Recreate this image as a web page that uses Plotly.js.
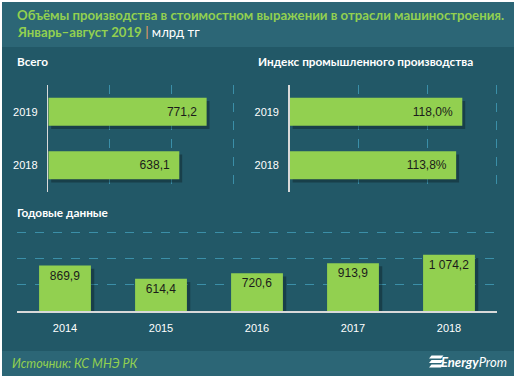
<!DOCTYPE html>
<html>
<head>
<meta charset="utf-8">
<script src="https://cdn.plot.ly/plotly-3.0.1.min.js"></script>
<style>
html,body{margin:0;padding:0;background:#fff;}
#chart{width:517px;height:379px;}
</style>
</head>
<body>
<div id="chart"></div>
<script>
// ---- data ----
var totalYears = ['2018', '2019'];
var totalValues = [638.1, 771.2];
var indexYears = ['2018', '2019'];
var indexValues = [113.8, 118.0];
var annualYears = ['2014', '2015', '2016', '2017', '2018'];
var annualValues = [869.9, 614.4, 720.6, 913.9, 1074.2];

var titleLine1 = 'Объёмы производства в стоимостном выражении в отрасли машиностроения.';
var titleLine2 = 'Январь–август 2019';
var unitText = 'млрд тг';
var panelTitles = ['Всего', 'Индекс промышленного производства', 'Годовые данные'];
var sourceText = 'Источник: КС МНЭ РК';

// ---- helpers (pixel -> paper) ----
var W = 517, H = 379;
function px(x){ return x / W; }
function py(y){ return 1 - y / H; }

var GREEN = '#92d050';
var BG = '#225867';
var GRID = '#3b8fa8';
var SHADOW = 'rgba(0,0,0,0.28)';
var TXT = '#1b1b1b';
var valFont = {family: 'Liberation Sans, Arial, sans-serif', size: 12, color: TXT};
var tickFont = {family: 'Liberation Sans, Arial, sans-serif', size: 11, color: '#ffffff'};

var traces = [
  // shadows
  {type: 'bar', orientation: 'h', y: totalYears, x: totalValues, base: 14,
   xaxis: 'x', yaxis: 'y', width: 0.525, offset: -0.2625 - 0.06,
   marker: {color: SHADOW}, hoverinfo: 'skip', showlegend: false},
  {type: 'bar', orientation: 'h', y: indexYears, x: indexValues, base: 2,
   xaxis: 'x2', yaxis: 'y2', width: 0.525, offset: -0.2625 - 0.06,
   marker: {color: SHADOW}, hoverinfo: 'skip', showlegend: false},
  {type: 'bar', x: annualYears, y: annualValues, base: -60,
   xaxis: 'x3', yaxis: 'y3', width: 0.54, offset: -0.27 + 0.035,
   marker: {color: SHADOW}, hoverinfo: 'skip', showlegend: false},
  // main bars
  {type: 'bar', orientation: 'h', y: totalYears, x: totalValues,
   xaxis: 'x', yaxis: 'y', width: 0.525, offset: -0.2625,
   marker: {color: GREEN}, texttemplate: '%{x:,.1f}\u00a0\u00a0', textposition: 'inside',
   insidetextanchor: 'end', textfont: valFont, showlegend: false},
  {type: 'bar', orientation: 'h', y: indexYears, x: indexValues,
   xaxis: 'x2', yaxis: 'y2', width: 0.525, offset: -0.2625,
   marker: {color: GREEN}, texttemplate: '%{x:.1f}%\u00a0\u00a0', textposition: 'inside',
   insidetextanchor: 'end', textfont: valFont, showlegend: false},
  {type: 'bar', x: annualYears, y: annualValues,
   xaxis: 'x3', yaxis: 'y3', width: 0.54, offset: -0.27,
   marker: {color: GREEN}, texttemplate: '%{y:,.1f}', textposition: 'inside',
   insidetextanchor: 'end', textfont: valFont, showlegend: false}
];

var hAxisX = function(dom, range, dtick){
  return {domain: dom, range: range, tick0: 0, dtick: dtick, showticklabels: false,
    showgrid: true, gridcolor: GRID, griddash: 'dash', gridwidth: 1,
    zeroline: false, showline: false, ticks: '', fixedrange: true};
};
var hAxisY = function(dom, anchor){
  return {domain: dom, anchor: anchor, type: 'category', categoryorder: 'array',
    categoryarray: ['2018', '2019'], range: [-0.5, 1.5],
    showline: true, linecolor: '#d9d9d9', linewidth: 1.5, showgrid: false, zeroline: false,
    ticks: 'outside', ticklen: 7, tickcolor: 'rgba(0,0,0,0)', tickfont: tickFont, fixedrange: true};
};

var xa1 = hAxisX([px(48.3), px(48.3 + 910 * 0.2053)], [0, 910], 300); xa1.anchor = 'y';
var ya1 = hAxisY([py(192), py(85)], 'x');
var xa2 = hAxisX([px(289.7), px(289.7 + 143 * 1.4627)], [0, 143], 47.1); xa2.anchor = 'y2';
var ya2 = hAxisY([py(192), py(85)], 'x2');

var xa3 = {domain: [px(17), px(497)], anchor: 'y3', type: 'category', range: [-0.5, 4.5],
  showline: true, linecolor: '#d9d9d9', linewidth: 1.5, showgrid: false, zeroline: false,
  ticks: 'outside', ticklen: 6, tickcolor: 'rgba(0,0,0,0)', tickfont: tickFont, fixedrange: true};
var ya3 = {domain: [py(311), py(231)], anchor: 'x3', range: [0, 1530], tick0: 0, dtick: 500,
  showticklabels: false, showgrid: true, gridcolor: GRID, griddash: 'dash', gridwidth: 1,
  zeroline: false, showline: false, ticks: '', fixedrange: true};

var shapes = [
  {type: 'rect', xref: 'paper', yref: 'paper', x0: px(2), x1: px(514), y0: py(376), y1: py(2),
   fillcolor: BG, line: {width: 0}, layer: 'below'},
  {type: 'rect', xref: 'paper', yref: 'paper', x0: px(2), x1: px(514), y0: py(47), y1: py(2),
   fillcolor: '#2c6676', line: {width: 0}, layer: 'below'},
  {type: 'rect', xref: 'paper', yref: 'paper', x0: px(2), x1: px(514), y0: py(376), y1: py(351),
   fillcolor: '#2c6676', line: {width: 0}, layer: 'below'}
];
// EnergyProm logo stripes
[[355.5, 358.5], [360, 363], [364.5, 367.5]].forEach(function(s, i){
  var sl = 2.5;
  var x0 = 429, x1 = 441;
  shapes.push({type: 'path', xref: 'paper', yref: 'paper',
    path: 'M ' + px(x0 + sl) + ' ' + py(s[0]) + ' L ' + px(x1 + sl) + ' ' + py(s[0]) +
          ' L ' + px(x1) + ' ' + py(s[1]) + ' L ' + px(x0) + ' ' + py(s[1]) + ' Z',
    fillcolor: '#ffffff', line: {width: 0}, layer: 'above'});
});

var titleFont = {family: 'Lato, Calibri, sans-serif', size: 13.2, color: GREEN};
var secFont = {family: 'Lato, Calibri, sans-serif', size: 11.8, color: '#ffffff'};
function ann(x, y, text, font, xanchor){
  return {xref: 'paper', yref: 'paper', x: px(x), y: py(y), text: text, showarrow: false,
    xanchor: xanchor || 'left', yanchor: 'middle', align: 'left', font: font};
}
var annotations = [
  ann(15, 15, '<b>' + titleLine1 + '</b>', titleFont),
  ann(15, 32, '<b>' + titleLine2 + '</b> <span style="color:#f4a460">|</span> <span style="color:#ffffff">' + unitText + '</span>', titleFont),
  ann(15, 62, '<b>' + panelTitles[0] + '</b>', secFont),
  ann(256, 62, '<b>' + panelTitles[1] + '</b>', secFont),
  ann(15, 212, '<b>' + panelTitles[2] + '</b>', secFont),
  ann(10, 363, '<i>' + sourceText + '</i>', {family: 'Lato, Calibri, sans-serif', size: 12.5, color: GREEN}),
  ann(509, 362, '<b><i>Energy</i></b><i>Prom</i>', {family: 'Lato, sans-serif', size: 13, color: '#ffffff'}, 'right')
];

var layout = {
  width: W, height: H, margin: {l: 0, r: 0, t: 0, b: 0},
  paper_bgcolor: '#ffffff', plot_bgcolor: 'rgba(0,0,0,0)',
  separators: ', ', barmode: 'overlay', showlegend: false,
  xaxis: xa1, yaxis: ya1, xaxis2: xa2, yaxis2: ya2, xaxis3: xa3, yaxis3: ya3,
  shapes: shapes, annotations: annotations, hovermode: false
};

Plotly.newPlot('chart', traces, layout, {displayModeBar: false, staticPlot: true});
</script>
</body>
</html>
